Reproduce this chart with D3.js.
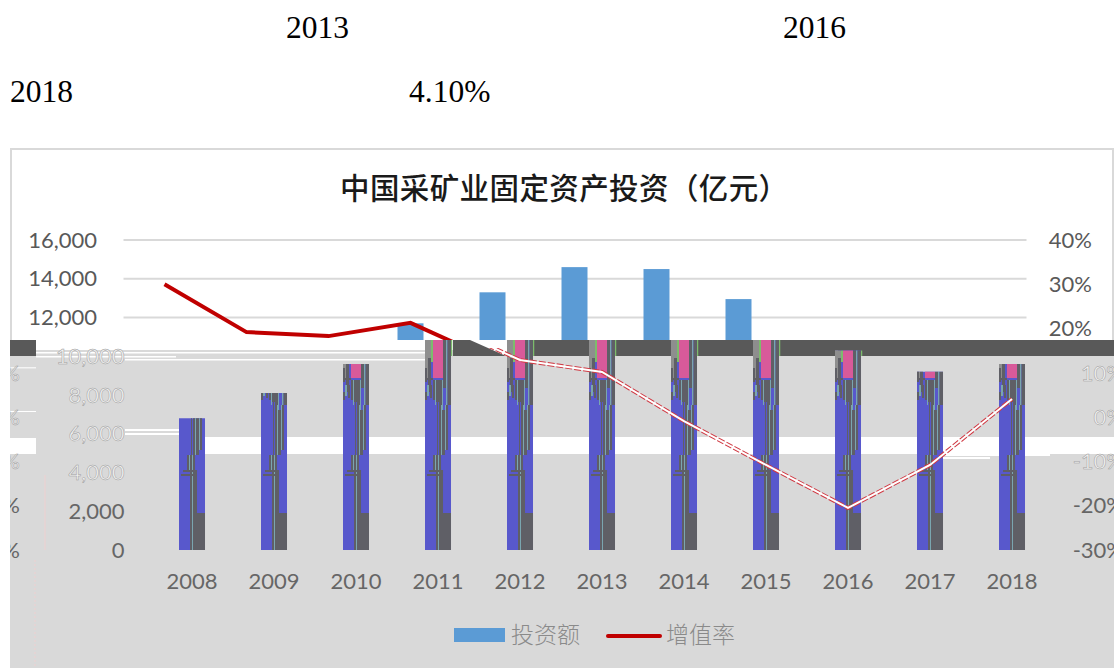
<!DOCTYPE html>
<html><head><meta charset="utf-8">
<script src="https://d3js.org/d3.v7.min.js"></script>
<style>html,body{margin:0;padding:0;background:#fff}svg{display:block}</style>
</head><body><svg id="c" width="1118" height="668"></svg>
<script>
const years = ["2008","2009","2010","2011","2012","2013","2014","2015","2016","2017","2018"];
const investment = [6800,8100,9600,11700,13300,14600,14500,12950,10300,9200,9600];
const growth = [30,19.2,18.3,21.3,12.9,10.2,-0.9,-10.8,-20.5,-10.8,4.1];
const leftTicks = [0,2000,4000,6000,8000,10000,12000,14000,16000];
const rightTicks = [-30,-20,-10,0,10,20,30,40];
const chartTitle = "中国采矿业固定资产投资（亿元）";
const legendNames = ["投资额","增值率"];
const textFragments = [["2013",286,38],["2016",783,38],["2018",10,102],["4.10%",409,102]];

const svg = d3.select("#c");
const W = 1118, H = 668, BAND_TOP = 340, BAND_BOT = 356, SHIFT = 27.5;
const x = d3.scaleBand().domain(years).range([151,1053]).paddingInner(0.683).paddingOuter(0.3415);
const yL = d3.scaleLinear().domain([0,16000]).range([550,240]);
const yR = d3.scaleLinear().domain([-30,40]).range([550,240]);
const cx = d => x(d)+x.bandwidth()/2;
const lineGen = d3.line().x((d,i)=>cx(years[i])).y(d=>yR(d));
const SANS = "Lato, 'Liberation Sans', sans-serif";
const CJK = "'Noto Sans CJK SC', sans-serif";
const defs = svg.append("defs");
function clip(id,X,Y,w,h){defs.append("clipPath").attr("id",id).append("rect").attr("x",X).attr("y",Y).attr("width",w).attr("height",h);}
clip("upper",0,0,W,BAND_TOP);
clip("lower",10,BAND_TOP,1104,H-BAND_TOP);
clip("lowerText",10,BAND_BOT-8,1104,H-BAND_BOT+8);

svg.append("rect").attr("width",W).attr("height",H).attr("fill","#fff");
svg.selectAll("text.top").data(textFragments).join("text").attr("class","top")
  .attr("x",d=>d[1]).attr("y",d=>d[2])
  .attr("font-family","'Liberation Serif',serif").attr("font-size",31.5).attr("fill","#000").text(d=>d[0]);

/* ---------- intact upper part ---------- */
const up = svg.append("g").attr("clip-path","url(#upper)");
up.append("rect").attr("x",11).attr("y",149).attr("width",1102).attr("height",540).attr("fill","none").attr("stroke","#d9d9d9").attr("stroke-width",2);
up.append("text").attr("x",340).attr("y",199).attr("font-family",CJK).attr("letter-spacing",0.4)
  .attr("font-size",29.5).attr("font-weight",500).attr("fill","#1a1a1a").text(chartTitle);
const gu = up.append("g").attr("transform",`translate(${-SHIFT},0)`);
gu.append("g").selectAll("line").data(leftTicks.filter(t=>t>=12000)).join("line")
  .attr("x1",151).attr("x2",1054).attr("y1",d=>yL(d)).attr("y2",d=>yL(d)).attr("stroke","#d9d9d9").attr("stroke-width",2);
function axisText(g,scale,ticks,fmt,xpos,cls){
  g.selectAll("text."+cls).data(ticks).join("text").attr("class",cls)
   .attr("x",xpos).attr("y",d=>scale(d)).attr("dy","0.35em").attr("text-anchor","end")
   .attr("font-family",SANS).attr("font-size",22).attr("fill","#595959").text(fmt);
}
const fmtL = d3.format(",");
const fmtR = d => d+"%";
axisText(gu,yL,leftTicks.filter(t=>t>=12000),fmtL,124.5,"l");
axisText(gu,yR,rightTicks.filter(t=>t>=20),fmtR,1119.5,"r");
gu.append("g").selectAll("rect").data(years).join("rect")
  .attr("x",d=>x(d)).attr("width",x.bandwidth())
  .attr("y",(d,i)=>yL(investment[i])).attr("height",(d,i)=>550-yL(investment[i])).attr("fill","#5b9bd5");
gu.append("path").attr("d",lineGen(growth)).attr("fill","none").attr("stroke","#c00000").attr("stroke-width",4);

/* ---------- corrupted bands ---------- */
const DARK="#595959", GREY="#d9d9d9";
svg.append("rect").attr("x",10).attr("y",BAND_TOP).attr("width",26).attr("height",16).attr("fill",DARK);
svg.append("rect").attr("x",453).attr("y",BAND_TOP).attr("width",661).attr("height",16).attr("fill",DARK);
svg.append("path").attr("d","M470,340L506,356L533,356L533,340Z").attr("fill","#fff");
svg.append("rect").attr("x",10).attr("y",BAND_BOT).attr("width",1104).attr("height",H-BAND_BOT).attr("fill",GREY);
svg.append("rect").attr("x",36).attr("y",350).attr("width",417).attr("height",6).attr("fill",GREY);
svg.append("rect").attr("x",36).attr("y",352).attr("width",390).attr("height",1.5).attr("fill","#fff");
svg.append("rect").attr("x",36).attr("y",356).attr("width",140).attr("height",1.5).attr("fill","#fff");
svg.append("rect").attr("x",125).attr("y",359).attr("width",300).attr("height",1.5).attr("fill","#fff");
svg.append("rect").attr("x",10).attr("y",367).attr("width",26).attr("height",1.5).attr("fill","#f4f4f4");
svg.append("rect").attr("x",10).attr("y",411).attr("width",26).attr("height",1).attr("fill","#fff");
svg.append("rect").attr("x",10).attr("y",438).attr("width",26).attr("height",16).attr("fill","#fff");
svg.append("rect").attr("x",179).attr("y",437).attr("width",935).attr("height",17).attr("fill","#fff");
svg.append("rect").attr("x",125).attr("y",429).attr("width",54).attr("height",2).attr("fill","#fff");
svg.append("rect").attr("x",125).attr("y",433).attr("width",54).attr("height",2).attr("fill","#fff");
svg.append("rect").attr("x",940).attr("y",454).attr("width",110).attr("height",2).attr("fill","#fff");
svg.append("rect").attr("x",940).attr("y",457).attr("width",50).attr("height",2).attr("fill","#fff");
[[45,475,550,"#eed0d0",null],[35,560,668,"#eed0d0","2 2"]].forEach(v=>{
  svg.append("line").attr("x1",v[0]).attr("x2",v[0]).attr("y1",v[1]).attr("y2",v[2]).attr("stroke",v[3]).attr("stroke-dasharray",v[4]);
});

/* ---------- corrupted lower part ---------- */
const low = svg.append("g");
const PURPLE="#5858cc", D2="#5f5f66", TEAL="#7aa6b0", PINK="#d85a9a", GREEN="#7cbc6c", G3="#8e8e8e";
// artefact stripes: [dx, width, y0, y1, colour]; same pattern repeats in every bar, cut at bar top
const stripes = [
  [0,26,340,550,PURPLE],
  [0,3,340,380,G3],[3,3,340,380,D2],[6,2,340,362,GREEN],[8,10,340,378,PINK],[18,3,340,388,D2],[21,1.5,340,405,TEAL],[22.5,3.5,340,405,D2],
  [26,1.5,340,356,GREEN],[0,6,340,358,G3],
  [0,8,378,380,D2],[0,2,368,382,D2],[3,3,378,392,D2],[8,2,380,400,D2],[10,1,380,405,TEAL],[11,3,380,402,D2],[14,3,380,410,D2],[17,1,380,420,TEAL],
  [0,2,392,400,D2],[2,2,385,396,TEAL],[5,2,385,398,D2],[12,1,400,455,D2],[14,2,402,455,D2],[16,1,405,455,TEAL],[17,3,410,455,D2],[20,1,405,450,TEAL],[21,2,405,450,D2],
  [8,2,455,470,D2],[10,1,455,470,TEAL],[11,2,455,550,D2],[13,1,455,550,TEAL],[14,2,455,550,D2],[16,2,470,550,D2],[4,14,470,472,D2],[2,16,474,476,D2],
  [18,8,513,550,D2]
];
const bars = low.append("g").selectAll("g").data(years).join("g");
bars.each(function(d,i){
  const id="b"+d;
  defs.append("clipPath").attr("id",id).append("rect")
    .attr("x",x(d)).attr("width",x.bandwidth()+1.5)
    .attr("y",Math.max(yL(investment[i]),BAND_TOP)).attr("height",550-Math.max(yL(investment[i]),BAND_TOP));
  d3.select(this).attr("clip-path",`url(#${id})`).selectAll("rect").data(stripes).join("rect")
    .attr("x",s=>x(d)+s[0]).attr("width",s=>s[1]).attr("y",s=>s[2]).attr("height",s=>s[3]-s[2]).attr("fill",s=>s[4]);
});
const lc = low.append("g").attr("clip-path","url(#lowerText)");
lc.append("path").attr("d",lineGen(growth)).attr("fill","none").attr("stroke","#d03a44").attr("stroke-width",4).attr("stroke-dasharray","7 2");
lc.append("path").attr("d",lineGen(growth)).attr("fill","none").attr("stroke","#fff").attr("stroke-width",2);

/* tick labels */
const txt = low.append("g");
const solid = d => d<=2000;
txt.selectAll("text.ll").data(leftTicks.filter(t=>t<=10000)).join("text").attr("class","ll")
  .attr("x",124.5).attr("y",d=>yL(d)).attr("dy","0.35em").attr("text-anchor","end")
  .attr("font-family",SANS).attr("font-size",22)
  .attr("fill",d=>solid(d)?"#666":"#f2f2f2").attr("stroke",d=>solid(d)?"none":"#9a9a9a").attr("stroke-width",0.5)
  .text(fmtL);
const rr = low.append("g").attr("clip-path","url(#lower)");
[0,-1104].forEach(off=>{
  rr.selectAll("text.rr"+(off?"w":"")).data(rightTicks.filter(t=>t<=10)).join("text").attr("class","rr"+(off?"w":""))
    .attr("x",1124+off).attr("y",d=>yR(d)).attr("dy","0.35em").attr("text-anchor","end")
    .attr("font-family",SANS).attr("font-size",22)
    .attr("fill",d=>d<=-20?"#666":"#f2f2f2").attr("stroke",d=>d<=-20?"none":"#9a9a9a").attr("stroke-width",0.5)
    .text(fmtR);
});
txt.selectAll("text.xl").data(years).join("text").attr("class","xl")
  .attr("x",cx).attr("y",589).attr("text-anchor","middle")
  .attr("font-family",SANS).attr("font-size",22).attr("fill","#666").text(d=>d);

/* legend */
low.append("rect").attr("x",454).attr("y",628).attr("width",51).attr("height",14).attr("fill","#5b9bd5");
low.append("line").attr("x1",608).attr("x2",660).attr("y1",636).attr("y2",636).attr("stroke","#c00000").attr("stroke-width",4).attr("stroke-linecap","round");
low.append("text").attr("x",511).attr("y",643).attr("font-family",CJK).attr("font-size",23).attr("font-weight",300).attr("fill","#8a8a8a").text(legendNames[0]);
low.append("text").attr("x",666).attr("y",643).attr("font-family",CJK).attr("font-size",23).attr("font-weight",300).attr("fill","#8a8a8a").text(legendNames[1]);
</script></body></html>
